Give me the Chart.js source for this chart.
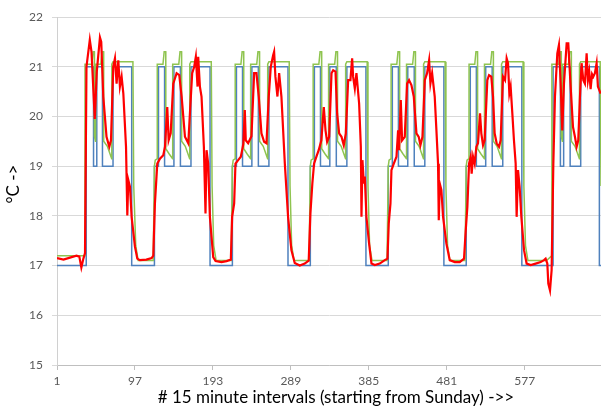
<!DOCTYPE html>
<html><head><meta charset="utf-8">
<script src="https://cdn.jsdelivr.net/npm/chart.js@4.4.1/dist/chart.umd.min.js"></script>
<style>html,body{margin:0;padding:0;background:#fff;}canvas{display:block;}</style>
</head><body>
<canvas id="c" width="601" height="408"></canvas>
<script>
const xTicks = [1, 97, 193, 289, 385, 481, 577];
const yTicks = [15, 16, 17, 18, 19, 20, 21, 22];
const xTitle = '# 15 minute intervals (starting from Sunday) ->>';
const yTitle = '°C ->';

// Measured temperature (red)
const redX = [1,9,17,25,28.5,31,33.5,35.5,37.3,41.4,43.5,47.5,50,53.9,55.5,58,62,65.4,67.5,70.3,72.4,74.4,76.5,78.5,80.6,82.7,86,87.6,88.8,90.9,92.9,97,99.9,103,111,117.6,119.6,121.6,124.5,127.8,131.9,134,136.8,138.5,141,144.2,148.3,151.6,154.5,158.6,162.7,164.7,167.5,170,172,174.1,174.9,177,179,181.9,183.9,185.2,187.2,189.3,193.4,196.3,203.6,209.8,215.1,216.7,219.2,220.8,224.1,227.4,229,230.5,232.3,233.5,236.4,240.5,243.8,246.6,249.5,252.8,256.1,259,261.8,264.3,267.2,268.4,270,272.5,274.6,277.4,281.6,285.6,289.7,293.8,300,306.1,311,313.1,315.5,317.6,320.5,323.3,326.6,329.6,331.7,333.7,336.2,339.1,341.1,344,346,348.5,351.4,354.2,356.7,359.6,362.4,364.5,365.7,367.8,369.8,373.1,375.2,376,377.2,378.9,380.1,382.1,385.4,388.3,392.4,398.5,404.7,408,409.6,411.7,412.9,415.8,419.1,421.1,422.3,424.4,426,429.3,432.2,434.6,437.5,440.4,443.7,446.5,448.6,451.1,454,456.8,459.3,460.9,463,466.2,468.3,470.3,471.2,472.4,474.4,476.5,480.6,484.7,490.9,497,502.3,504.4,506.4,508.5,510.5,511.7,513.4,515.4,517.5,519.5,522,523.6,525.7,527.7,531,533.1,535.9,538,540,542.5,545.4,547.4,550.3,552.8,554.8,556.5,558.1,559.7,561.8,563.8,565.9,567.1,568.8,570.8,572.9,576.2,579.4,584.4,590.5,596.7,600.8,602.8,604.9,606.1,608.2,610.2,612.3,614.3,617.2,619.2,621.3,623.3,625.4,628.7,630.7,633.6,636.5,638.9,641,643,645.1,647.1,649.2,651.2,653.3,654.9,656.5,658.2,660,661.5,663.5,665.6,667.2,668.9,670.5];
const redY = [17.15,17.12,17.16,17.2,17.18,16.96,17.14,17.25,21.0,21.54,21.3,19.95,20.9,21.59,21.5,20.4,19.59,19.39,19.52,21.0,21.17,20.66,21.13,20.6,20.8,20.46,19.39,18.01,18.72,18.58,17.98,17.38,17.14,17.11,17.12,17.15,17.2,18.25,19.05,19.15,19.22,19.39,20.19,19.52,19.66,20.66,20.87,20.83,20.4,19.59,19.46,20.06,20.87,21.0,21.2,20.6,21.2,20.6,20.4,19.39,18.05,19.32,19.05,17.98,17.17,17.09,17.07,17.09,17.12,17.98,18.25,19.05,19.12,19.19,19.32,19.45,20.13,19.52,19.46,19.6,20.87,20.87,20.4,19.66,19.49,19.46,20.4,21.0,21.23,21.3,20.8,20.4,20.87,20.4,19.05,17.98,17.31,17.05,17.0,17.04,17.1,18.05,18.65,19.05,19.19,19.32,19.52,20.19,19.72,19.49,19.59,20.87,20.93,20.9,20.06,19.66,19.59,19.42,19.66,20.73,20.73,21.17,20.8,20.56,20.87,20.26,19.39,17.98,19.12,18.65,18.79,17.98,17.44,17.04,17.01,17.04,17.11,17.14,17.85,18.25,18.92,19.05,19.19,19.72,19.32,20.33,19.52,19.59,20.66,20.73,20.63,20.4,19.66,19.59,19.42,19.59,20.73,20.87,21.13,20.66,20.87,20.4,19.72,19.05,17.91,18.65,18.52,17.98,17.44,17.11,17.07,17.07,17.14,17.71,18.18,19.05,19.19,18.85,19.19,19.05,19.39,19.46,20.06,19.66,19.42,19.52,20.73,20.83,20.8,20.4,19.66,19.46,19.39,19.52,20.8,20.73,21.17,21.07,20.46,20.6,20.06,19.52,19.05,17.98,18.92,18.58,17.98,17.31,17.04,17.01,17.04,17.07,17.11,17.14,17.04,16.64,16.5,16.91,19.05,20.4,21.27,21.44,20.66,19.72,20.66,21.47,21.47,20.6,19.79,19.59,19.39,19.52,20.4,21.07,20.73,20.66,21.27,20.73,20.9,20.55,20.85,20.8,20.87,21.07,20.6,20.53,20.46];

// Setpoint schedule (blue)
const blueX = [1,37,46,50,57,70,93, 121,126,133.5,145,153,166,189.5, 217,222,229.5,241,249,262,285.5, 313,318,325.5,337,345,358,381.5, 409,414,421.5,433,441,454,477.5, 505,510,517.5,529,537,550,573.5, 612,621,625,633,646,669,672];
const blueY = [17,21,19,21,19,21,17, 19,21,19,21,19,21,17, 19,21,19,21,19,21,17, 19,21,19,21,19,21,17, 19,21,19,21,19,21,17, 19,21,19,21,19,21,17, 21,19,21,19,21,17,17];

// Effective / predicted setpoint (green)
const greenX = [1,35.4,35.5,44,45.5,47,47.1,48.4,48.5,55,56.5,58.4,58.5,63,68.4,68.5,70,94.5,95.5,98,101,
 119.5,121,122,124.4,124.5,131.5,133,134.9,135,139,143.4,143.5,151,152.5,154.4,154.5,159,164.4,164.5,166,191,192,194,197,
 215.5,217,218,220.4,220.5,227.5,229,230.9,231,235,239.4,239.5,247,248.5,250.4,250.5,255,260.4,260.5,262,287,288,290,293,
 311.5,313,314,316.4,316.5,323.5,325,326.9,327,331,335.4,335.5,343,344.5,346.4,346.5,351,356.4,356.5,358,383,384,386,389,
 407.5,409,410,412.4,412.5,419.5,421,422.9,423,427,431.4,431.5,439,440.5,442.4,442.5,447,452.4,452.5,454,479,480,482,485,
 503.5,505,506,508.4,508.5,515.5,517,518.9,519,523,527.4,527.5,535,536.5,538.4,538.5,543,548.4,548.5,550,575,576,578,581,
 604,610.4,610.5,619,620.5,622,622.1,623.4,623.5,631,632.5,634.4,634.5,639,644.4,644.5,646,670,671];
const greenY = [17.2,17.2,21.05,21.05,21.3,21.3,19.6,19.5,21.05,21.05,21.3,21.3,19.5,19.4,19.15,21.05,21.1,21.1,18.6,17.4,17.1,
 17.1,19.0,19.12,19.15,21.05,21.05,21.3,21.3,19.35,19.25,19.15,21.05,21.05,21.3,21.3,19.5,19.4,19.15,21.05,21.1,21.1,18.6,17.4,17.1,
 17.1,19.0,19.12,19.15,21.05,21.05,21.3,21.3,19.35,19.25,19.15,21.05,21.05,21.3,21.3,19.5,19.4,19.15,21.05,21.1,21.1,18.6,17.4,17.1,
 17.1,19.0,19.12,19.15,21.05,21.05,21.3,21.3,19.35,19.25,19.15,21.05,21.05,21.3,21.3,19.5,19.4,19.15,21.05,21.1,21.1,18.6,17.4,17.1,
 17.1,19.0,19.12,19.15,21.05,21.05,21.3,21.3,19.35,19.25,19.15,21.05,21.05,21.3,21.3,19.5,19.4,19.15,21.05,21.1,21.1,18.6,17.4,17.1,
 17.1,19.0,19.12,19.15,21.05,21.05,21.3,21.3,19.35,19.25,19.15,21.05,21.05,21.3,21.3,19.5,19.4,19.15,21.05,21.1,21.1,18.6,17.4,17.1,
 17.1,17.2,21.05,21.05,21.3,21.3,19.6,19.5,21.05,21.05,21.3,21.3,19.5,19.4,19.15,21.05,21.1,21.1,18.6];

const zip = (xs, ys) => xs.map((x, i) => ({x: x, y: ys[i]}));

const titlesPlugin = {
  id: 'titles',
  afterDraw(chart) {
    const ctx = chart.ctx;
    ctx.save();
    ctx.fillStyle = '#000000';
    ctx.font = '17px Lato';
    ctx.textAlign = 'center';
    ctx.textBaseline = 'middle';
    ctx.fillText(xTitle, 336, 398);
    ctx.translate(14, 184);
    ctx.rotate(-Math.PI / 2);
    ctx.fillText(yTitle, 0, 0);
    ctx.restore();
  }
};

new Chart(document.getElementById('c'), {
  type: 'line',
  data: {
    datasets: [
      {label: 'Measured', data: zip(redX, redY), borderColor: '#ff0000', borderWidth: 2.2, pointRadius: 0, tension: 0},
      {label: 'Predicted', data: zip(greenX, greenY), borderColor: '#8fc450', borderWidth: 1.5, pointRadius: 0, tension: 0},
      {label: 'Setpoint', data: zip(blueX, blueY), borderColor: '#4f81bd', borderWidth: 1.5, pointRadius: 0, stepped: 'before'}
    ]
  },
  options: {
    responsive: false,
    animation: false,
    devicePixelRatio: 1,
    layout: {padding: {top: 17, right: 0, left: 0, bottom: 0}},
    plugins: {legend: {display: false}, tooltip: {enabled: false}},
    scales: {
      x: {
        type: 'linear', min: 1, max: 671,
        afterBuildTicks: (s) => { s.ticks = xTicks.map(v => ({value: v})); },
        afterFit: (s) => { s.height = 43; },
        ticks: {color: '#595959', font: {family: 'Lato', size: 12}, padding: 4, maxRotation: 0, autoSkip: false},
        grid: {drawOnChartArea: false, drawTicks: true, tickLength: 5, color: '#bfbfbf'},
        border: {display: true, color: '#bfbfbf'}
      },
      y: {
        type: 'linear', min: 15, max: 22,
        afterBuildTicks: (s) => { s.ticks = yTicks.map(v => ({value: v})); },
        afterFit: (s) => { s.width = 57; },
        ticks: {color: '#595959', font: {family: 'Lato', size: 12}, padding: 9},
        grid: {color: '#d9d9d9', tickLength: 5, lineWidth: 1},
        border: {display: true, color: '#d0d0d0'}
      }
    }
  },
  plugins: [titlesPlugin]
});
</script>
</body></html>
